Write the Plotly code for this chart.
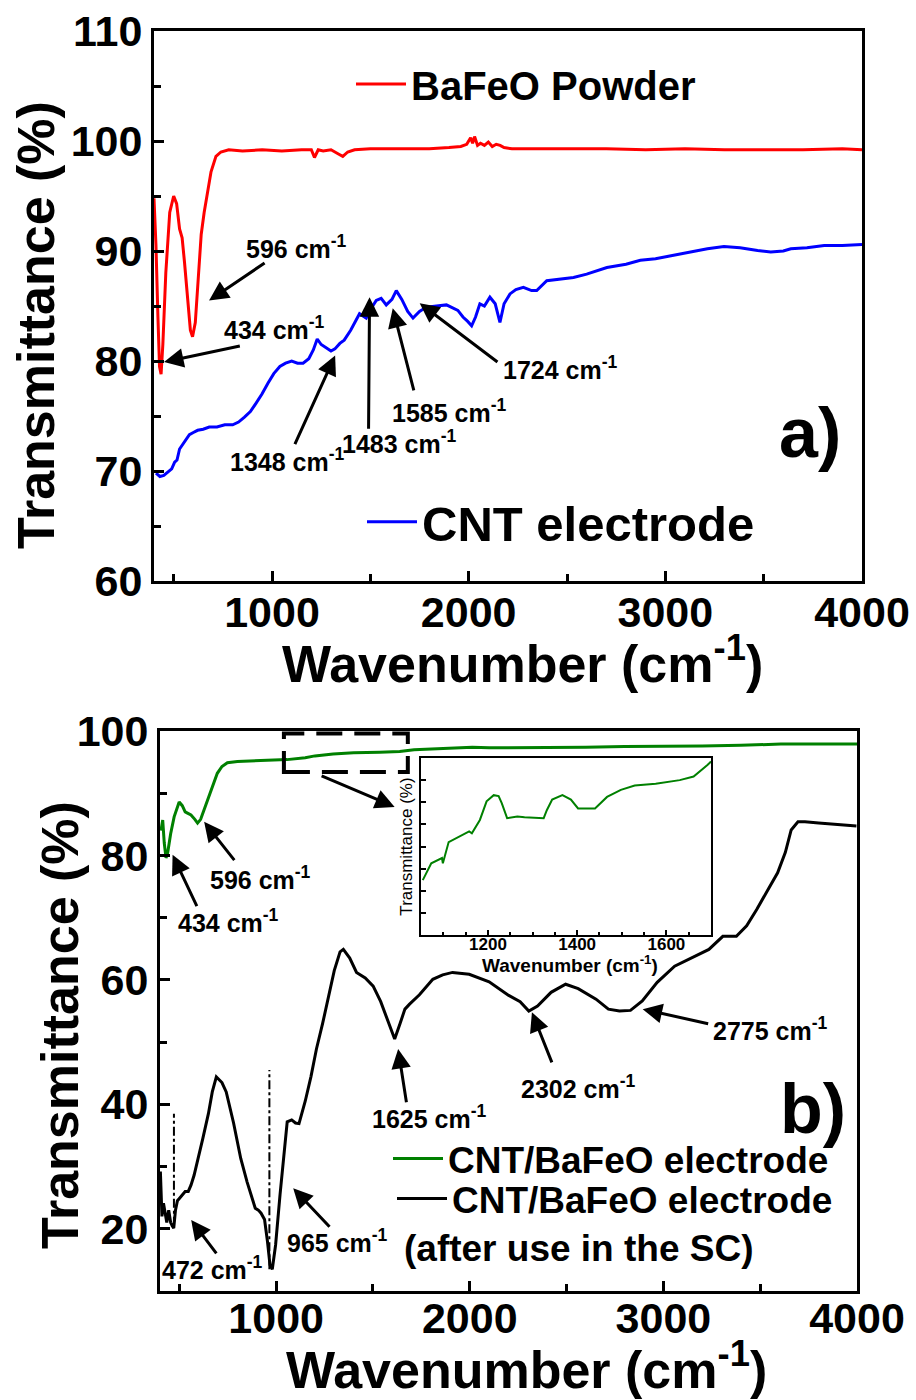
import plotly.graph_objects as go

FONT = "Liberation Sans, Arial, sans-serif"
W, H = 916, 1400

# ── Panel a) data ────────────────────────────────────────────────────────────
bafeo_wn = [400, 410, 420, 428, 436, 445, 460, 480, 500, 515, 530, 543, 555, 570,
            585, 596, 610, 625, 640, 655, 670, 690, 715, 740, 780, 850, 950, 1050,
            1150, 1200, 1216, 1235, 1260, 1300, 1340, 1360, 1385, 1420, 1500, 1600,
            1700, 1800, 1900, 1960, 1990, 2010, 2020, 2030, 2045, 2060, 2080, 2100,
            2120, 2140, 2160, 2180, 2220, 2300, 2500, 2700, 2900, 3100, 3300, 3500,
            3700, 3900, 4000]
bafeo_t = [94.8, 90.5, 84.0, 79.5, 78.8, 81.5, 88.0, 93.5, 95.0, 94.3, 92.0, 91.2,
           89.0, 85.5, 82.8, 82.2, 83.5, 87.5, 91.5, 93.5, 95.0, 97.2, 98.6, 99.0,
           99.2, 99.1, 99.2, 99.1, 99.2, 99.2, 98.5, 99.2, 99.1, 99.2, 98.8, 98.6,
           99.0, 99.2, 99.3, 99.3, 99.3, 99.3, 99.4, 99.5, 99.7, 100.3, 99.8, 100.4,
           99.6, 99.8, 99.6, 99.9, 99.5, 99.7, 99.6, 99.4, 99.3, 99.3, 99.3, 99.3,
           99.2, 99.3, 99.2, 99.2, 99.2, 99.3, 99.2]

cnt_wn = [410, 430, 450, 470, 490, 505, 517, 530, 545, 562, 580, 600, 622, 650, 681,
          720, 760, 800, 830, 860, 890, 920, 949, 980, 1009, 1040, 1069, 1100, 1130,
          1158, 1187, 1210, 1230, 1250, 1275, 1300, 1320, 1345, 1367, 1400, 1445,
          1479, 1505, 1530, 1555, 1581, 1610, 1632, 1660, 1690, 1717, 1750, 1785,
          1830, 1887, 1945, 1971, 1995, 2015, 2035, 2057, 2080, 2108, 2135, 2159,
          2180, 2210, 2240, 2278, 2320, 2346, 2397, 2450, 2533, 2600, 2703, 2800,
          2873, 2950, 3043, 3130, 3214, 3298, 3380, 3469, 3536, 3600, 3638, 3720,
          3808, 3900, 4000]
cnt_t = [69.8, 69.5, 69.6, 69.9, 70.2, 70.8, 71.0, 72.0, 72.4, 72.8, 73.3, 73.5,
         73.7, 73.8, 74.0, 74.0, 74.2, 74.2, 74.45, 74.9, 75.4, 76.2, 77.0, 78.0,
         78.85, 79.5, 79.8, 80.0, 79.8, 79.8, 80.2, 81.0, 82.0, 81.5, 81.2, 80.9,
         81.1, 81.6, 81.9, 82.8, 84.3, 83.9, 84.8, 85.5, 85.7, 85.1, 85.6, 86.4,
         85.6, 84.5, 83.9, 84.5, 84.9, 85.0, 85.1, 84.6, 84.0, 83.6, 83.2, 84.0,
         85.2, 85.0, 85.8, 85.2, 83.5, 85.2, 86.1, 86.5, 86.7, 86.4, 86.4, 87.3,
         87.4, 87.6, 87.9, 88.5, 88.8, 89.15, 89.3, 89.6, 89.9, 90.2, 90.4, 90.3,
         90.05, 89.9, 90.0, 90.2, 90.3, 90.5, 90.5, 90.6]

# ── Panel b) data ────────────────────────────────────────────────────────────
comp_wn = [405, 414, 422, 431, 440, 455, 473, 490, 499, 515, 530, 542, 560, 580, 594,
           610, 630, 645, 670, 696, 720, 748, 800, 867, 950, 1056, 1150, 1200, 1294,
           1400, 1535, 1638, 1712, 1800, 1900, 2013, 2100, 2300, 2598, 2800, 2953,
           3200, 3400, 3607, 3800, 4000]
comp_t = [84.0, 85.7, 82.0, 79.6, 80.5, 83.5, 86.2, 88.0, 88.6, 88.0, 87.0, 86.8,
          86.5, 85.8, 85.2, 85.8, 87.5, 88.9, 91.2, 93.2, 94.3, 94.9, 95.1, 95.2,
          95.3, 95.4, 95.7, 96.0, 96.3, 96.5, 96.6, 96.7, 97.0, 97.1, 97.2, 97.4,
          97.3, 97.3, 97.4, 97.5, 97.5, 97.6, 97.7, 97.9, 97.9, 97.9]

used_wn = [402, 410, 418, 426, 435, 445, 455, 463, 471, 480, 490, 501, 515, 530, 546,
           560, 576, 600, 621, 650, 670, 691, 705, 720, 742, 780, 817, 850, 892, 908,
           922, 940, 955, 968, 980, 997, 1020, 1043, 1057, 1080, 1100, 1118, 1150,
           1180, 1208, 1240, 1268, 1300, 1330, 1347, 1380, 1415, 1460, 1501, 1540,
           1580, 1612, 1640, 1665, 1689, 1740, 1809, 1860, 1911, 1997, 2100, 2201,
           2260, 2305, 2350, 2420, 2495, 2560, 2652, 2716, 2773, 2830, 2891, 2968,
           3058, 3150, 3235, 3307, 3377, 3430, 3482, 3540, 3590, 3630, 3660, 3695,
           3731, 3802, 3900, 3997]
used_t = [29.2, 22.0, 24.1, 22.5, 21.0, 23.0, 21.0, 20.5, 20.1, 23.0, 24.5, 24.9,
          25.5, 26.0, 26.0, 27.0, 28.6, 31.5, 34.5, 38.5, 42.0, 44.4, 44.0, 43.5,
          42.0, 37.0, 31.3, 27.5, 23.3, 23.0, 22.5, 21.5, 18.0, 14.2, 13.5, 17.4,
          25.5, 32.9, 37.2, 37.5, 37.0, 36.9, 40.5, 44.5, 48.9, 53.0, 56.9, 61.5,
          64.5, 64.9, 63.5, 61.2, 60.3, 59.0, 56.5, 53.0, 50.5, 53.0, 55.3, 56.1,
          57.6, 60.1, 60.8, 61.2, 60.9, 59.7, 57.5, 56.5, 55.0, 55.8, 58.0, 59.3,
          58.6, 56.9, 55.3, 55.0, 55.1, 56.6, 59.6, 62.2, 63.6, 64.9, 67.0, 67.0,
          68.7, 71.3, 74.5, 77.2, 80.5, 84.1, 85.4, 85.4, 85.2, 85.0, 84.75]

# inset: zoom of the composite curve, 1050-1700 cm-1
inset_wn = [1054, 1073, 1097, 1099, 1112, 1135, 1158, 1164, 1182, 1197, 1213, 1224,
            1231, 1243, 1266, 1282, 1325, 1332, 1344, 1367, 1386, 1402, 1440, 1467,
            1498, 1529, 1576, 1630, 1661, 1692, 1700]
inset_t = [95.62, 95.81, 95.87, 95.81, 96.05, 96.11, 96.17, 96.15, 96.30, 96.51,
           96.58, 96.57, 96.49, 96.32, 96.34, 96.33, 96.32, 96.41, 96.53, 96.58,
           96.53, 96.43, 96.43, 96.56, 96.64, 96.69, 96.71, 96.75, 96.79, 96.92,
           96.96]

# peak labels: (label, head x, head y, tail x, tail y, text x, text y)
peaks_a = [
    ("596", 680, 85.5, 970, 89.0, 1124, 90.4),
    ("434", 451, 79.9, 844, 81.4, 1012, 83.0),
    ("1348", 1321, 80.5, 1113, 72.3, 1080, 71.0),
    ("1483", 1496, 85.8, 1491, 73.7, 1650, 72.6),
    ("1585", 1614, 84.8, 1723, 77.2, 1904, 75.5),
    ("1724", 1751, 85.25, 2154, 79.8, 2465, 79.4),
]
peaks_b = [
    ("434", 465, 80.1, 594, 71.6, 754, 69.4),
    ("596", 628, 85.4, 790, 79.0, 919, 76.4),
    ("1625", 1630, 48.9, 1674, 40.1, 1792, 38.0),
    ("2302", 2321, 54.8, 2427, 46.5, 2562, 42.8),
    ("2775", 2893, 55.3, 3239, 52.9, 3554, 52.1),
    ("965", 1088, 26.5, 1283, 20.1, 1319, 18.0),
    ("472", 561, 21.4, 697, 15.8, 672, 13.7),
]
# dash-dot guides at the two low-wavenumber bands: (x, y bottom, y top)
guides_b = [(472, 20.5, 38.5), (965, 13.5, 45.5)]

fig = go.Figure()

fig.add_trace(go.Scatter(x=bafeo_wn, y=bafeo_t, mode="lines", name="BaFeO Powder",
                         line=dict(color="#ff0000", width=3), legend="legend",
                         xaxis="x", yaxis="y"))
fig.add_trace(go.Scatter(x=cnt_wn, y=cnt_t, mode="lines", name="CNT electrode",
                         line=dict(color="#0000ff", width=3), legend="legend2",
                         xaxis="x", yaxis="y"))
fig.add_trace(go.Scatter(x=comp_wn, y=comp_t, mode="lines", name="CNT/BaFeO electrode",
                         line=dict(color="#008000", width=3), legend="legend3",
                         xaxis="x2", yaxis="y2"))
fig.add_trace(go.Scatter(x=used_wn, y=used_t, mode="lines", name="CNT/BaFeO electrode",
                         line=dict(color="#000000", width=3), legend="legend4",
                         xaxis="x2", yaxis="y2"))
fig.add_trace(go.Scatter(x=inset_wn, y=inset_t, mode="lines", showlegend=False,
                         line=dict(color="#008000", width=2), xaxis="x3", yaxis="y3"))

tickfont = dict(family=FONT, size=43, color="black", weight="bold")
titlefont = dict(family=FONT, size=52, color="black", weight="bold")


def main_xaxis(domain, anchor, label_shift):
    return dict(domain=domain, anchor=anchor, range=[400, 4000], tick0=0, dtick=1000,
                ticks="inside", ticklen=10, tickwidth=3, tickcolor="black",
                minor=dict(ticks="inside", dtick=500, ticklen=7, tickwidth=3,
                           tickcolor="black"),
                showline=True, linewidth=3, linecolor="black", mirror=True,
                showgrid=False, zeroline=False, tickfont=tickfont, automargin=False,
                ticklabelstandoff=label_shift)


def main_yaxis(domain, anchor, yrange, major, minor):
    return dict(domain=domain, anchor=anchor, range=yrange, tick0=0, dtick=major,
                ticks="inside", ticklen=10, tickwidth=3, tickcolor="black",
                minor=dict(ticks="inside", dtick=minor, ticklen=7, tickwidth=3,
                           tickcolor="black"),
                showline=True, linewidth=3, linecolor="black", mirror=True,
                showgrid=False, zeroline=False, tickfont=tickfont, automargin=False)


def legend_box(x, y, size):
    return dict(x=x / W, y=1 - y / H, xanchor="left", yanchor="middle",
                bgcolor="rgba(0,0,0,0)", borderwidth=0, itemwidth=50,
                font=dict(family=FONT, size=size, color="black", weight="bold"))


fig.update_layout(
    width=W, height=H,
    margin=dict(l=0, r=0, t=0, b=0),
    paper_bgcolor="white", plot_bgcolor="white",
    font=dict(family=FONT, color="black"),
    xaxis=main_xaxis([154 / W, 862 / W], "y", -9),
    yaxis=main_yaxis([1 - 581 / H, 1 - 31 / H], "x", [60, 110], 10, 5),
    xaxis2=main_xaxis([160 / W, 857 / W], "y2", -13),
    yaxis2=main_yaxis([1 - 1291 / H, 1 - 731 / H], "x2", [10, 100], 20, 10),
    xaxis3=dict(domain=[421 / W, 711 / W], anchor="y3", range=[1050, 1700],
                tick0=0, dtick=200, ticks="inside", ticklen=5, tickwidth=2,
                tickcolor="black",
                minor=dict(ticks="inside", dtick=50, ticklen=3, tickwidth=2,
                           tickcolor="black"),
                showline=True, linewidth=2, linecolor="black", mirror=True,
                showgrid=False, zeroline=False, automargin=False,
                ticklabelstandoff=-7,
                tickfont=dict(family=FONT, size=17, color="black", weight="bold")),
    yaxis3=dict(domain=[1 - 935 / H, 1 - 758 / H], anchor="x3", range=[95.0, 97.0],
                dtick=0.25, ticks="inside", ticklen=5, tickwidth=2, tickcolor="black",
                showticklabels=False, automargin=False,
                showline=True, linewidth=2, linecolor="black", mirror=True,
                showgrid=False, zeroline=False,
                title=dict(text="Transmittance (%)", standoff=2,
                           font=dict(family=FONT, size=17, color="black"))),
    legend=legend_box(351, 84, 40),
    legend2=legend_box(362, 522, 49),
    legend3=legend_box(388, 1159, 37),
    legend4=legend_box(392, 1199, 37),
)

# axis titles, placed explicitly (the lower y title sits left of the "100" label)
axis_titles = [
    ("Wavenumber (cm<sup>-1</sup>)", 522, 660, 0, titlefont),
    ("Wavenumber (cm<sup>-1</sup>)", 526, 1366, 0, titlefont),
    ("Transmittance (%)", 36, 325, -90, titlefont),
    ("Transmittance (%)", 60, 1025, -90, titlefont),
    ("Wavenumber (cm<sup>-1</sup>)", 570, 964, 0,
     dict(family=FONT, size=19, color="black", weight="bold")),
]
for text, tx, ty, angle, tfont in axis_titles:
    fig.add_annotation(x=tx / W, y=1 - ty / H, xref="paper", yref="paper",
                       xanchor="center", yanchor="middle", text=text,
                       textangle=angle, showarrow=False, font=tfont)

arrow_style = dict(showarrow=True, arrowhead=2, arrowsize=1.3, arrowwidth=3,
                   arrowcolor="black", standoff=0, startstandoff=0)
label_font = dict(family=FONT, size=25, color="black", weight="bold")

for panel, peaks in (("", peaks_a), ("2", peaks_b)):
    xr, yr = "x" + panel, "y" + panel
    for label, hx, hy, tx, ty, lx, ly in peaks:
        fig.add_annotation(x=hx, y=hy, ax=tx, ay=ty, xref=xr, yref=yr,
                           axref=xr, ayref=yr, text="", **arrow_style)
        fig.add_annotation(x=lx, y=ly, xref=xr, yref=yr, showarrow=False,
                           text=f"{label} cm<sup>-1</sup>", font=label_font)

for gx, gy0, gy1 in guides_b:
    fig.add_shape(type="line", xref="x2", yref="y2", x0=gx, x1=gx, y0=gy0, y1=gy1,
                  line=dict(color="black", width=2, dash="dashdot"))

# dashed box marking the zoomed range, and arrow towards the inset
fig.add_shape(type="rect", xref="x2", yref="y2", x0=1040, x1=1680, y0=93.4, y1=99.6,
              line=dict(color="black", width=4, dash="26px,12px"))
fig.add_annotation(x=1612, y=87.8, ax=1227, ay=92.9, xref="x2", yref="y2",
                   axref="x2", ayref="y2", text="", **arrow_style)

panel_font = dict(family=FONT, size=70, color="black", weight="bold")
fig.add_annotation(x=3735, y=73.5, xref="x", yref="y", text="a)", showarrow=False,
                   font=panel_font)
fig.add_annotation(x=3773, y=39.3, xref="x2", yref="y2", text="b)", showarrow=False,
                   font=panel_font)
fig.add_annotation(x=2564, y=16.8, xref="x2", yref="y2", text="(after use in the SC)",
                   showarrow=False,
                   font=dict(family=FONT, size=37, color="black", weight="bold"))

# the page body has a default 8px margin; drop it so the figure fills the window
fig.write_html("out.html", config={"displayModeBar": False},
               post_script="document.body.style.margin='0px';")
